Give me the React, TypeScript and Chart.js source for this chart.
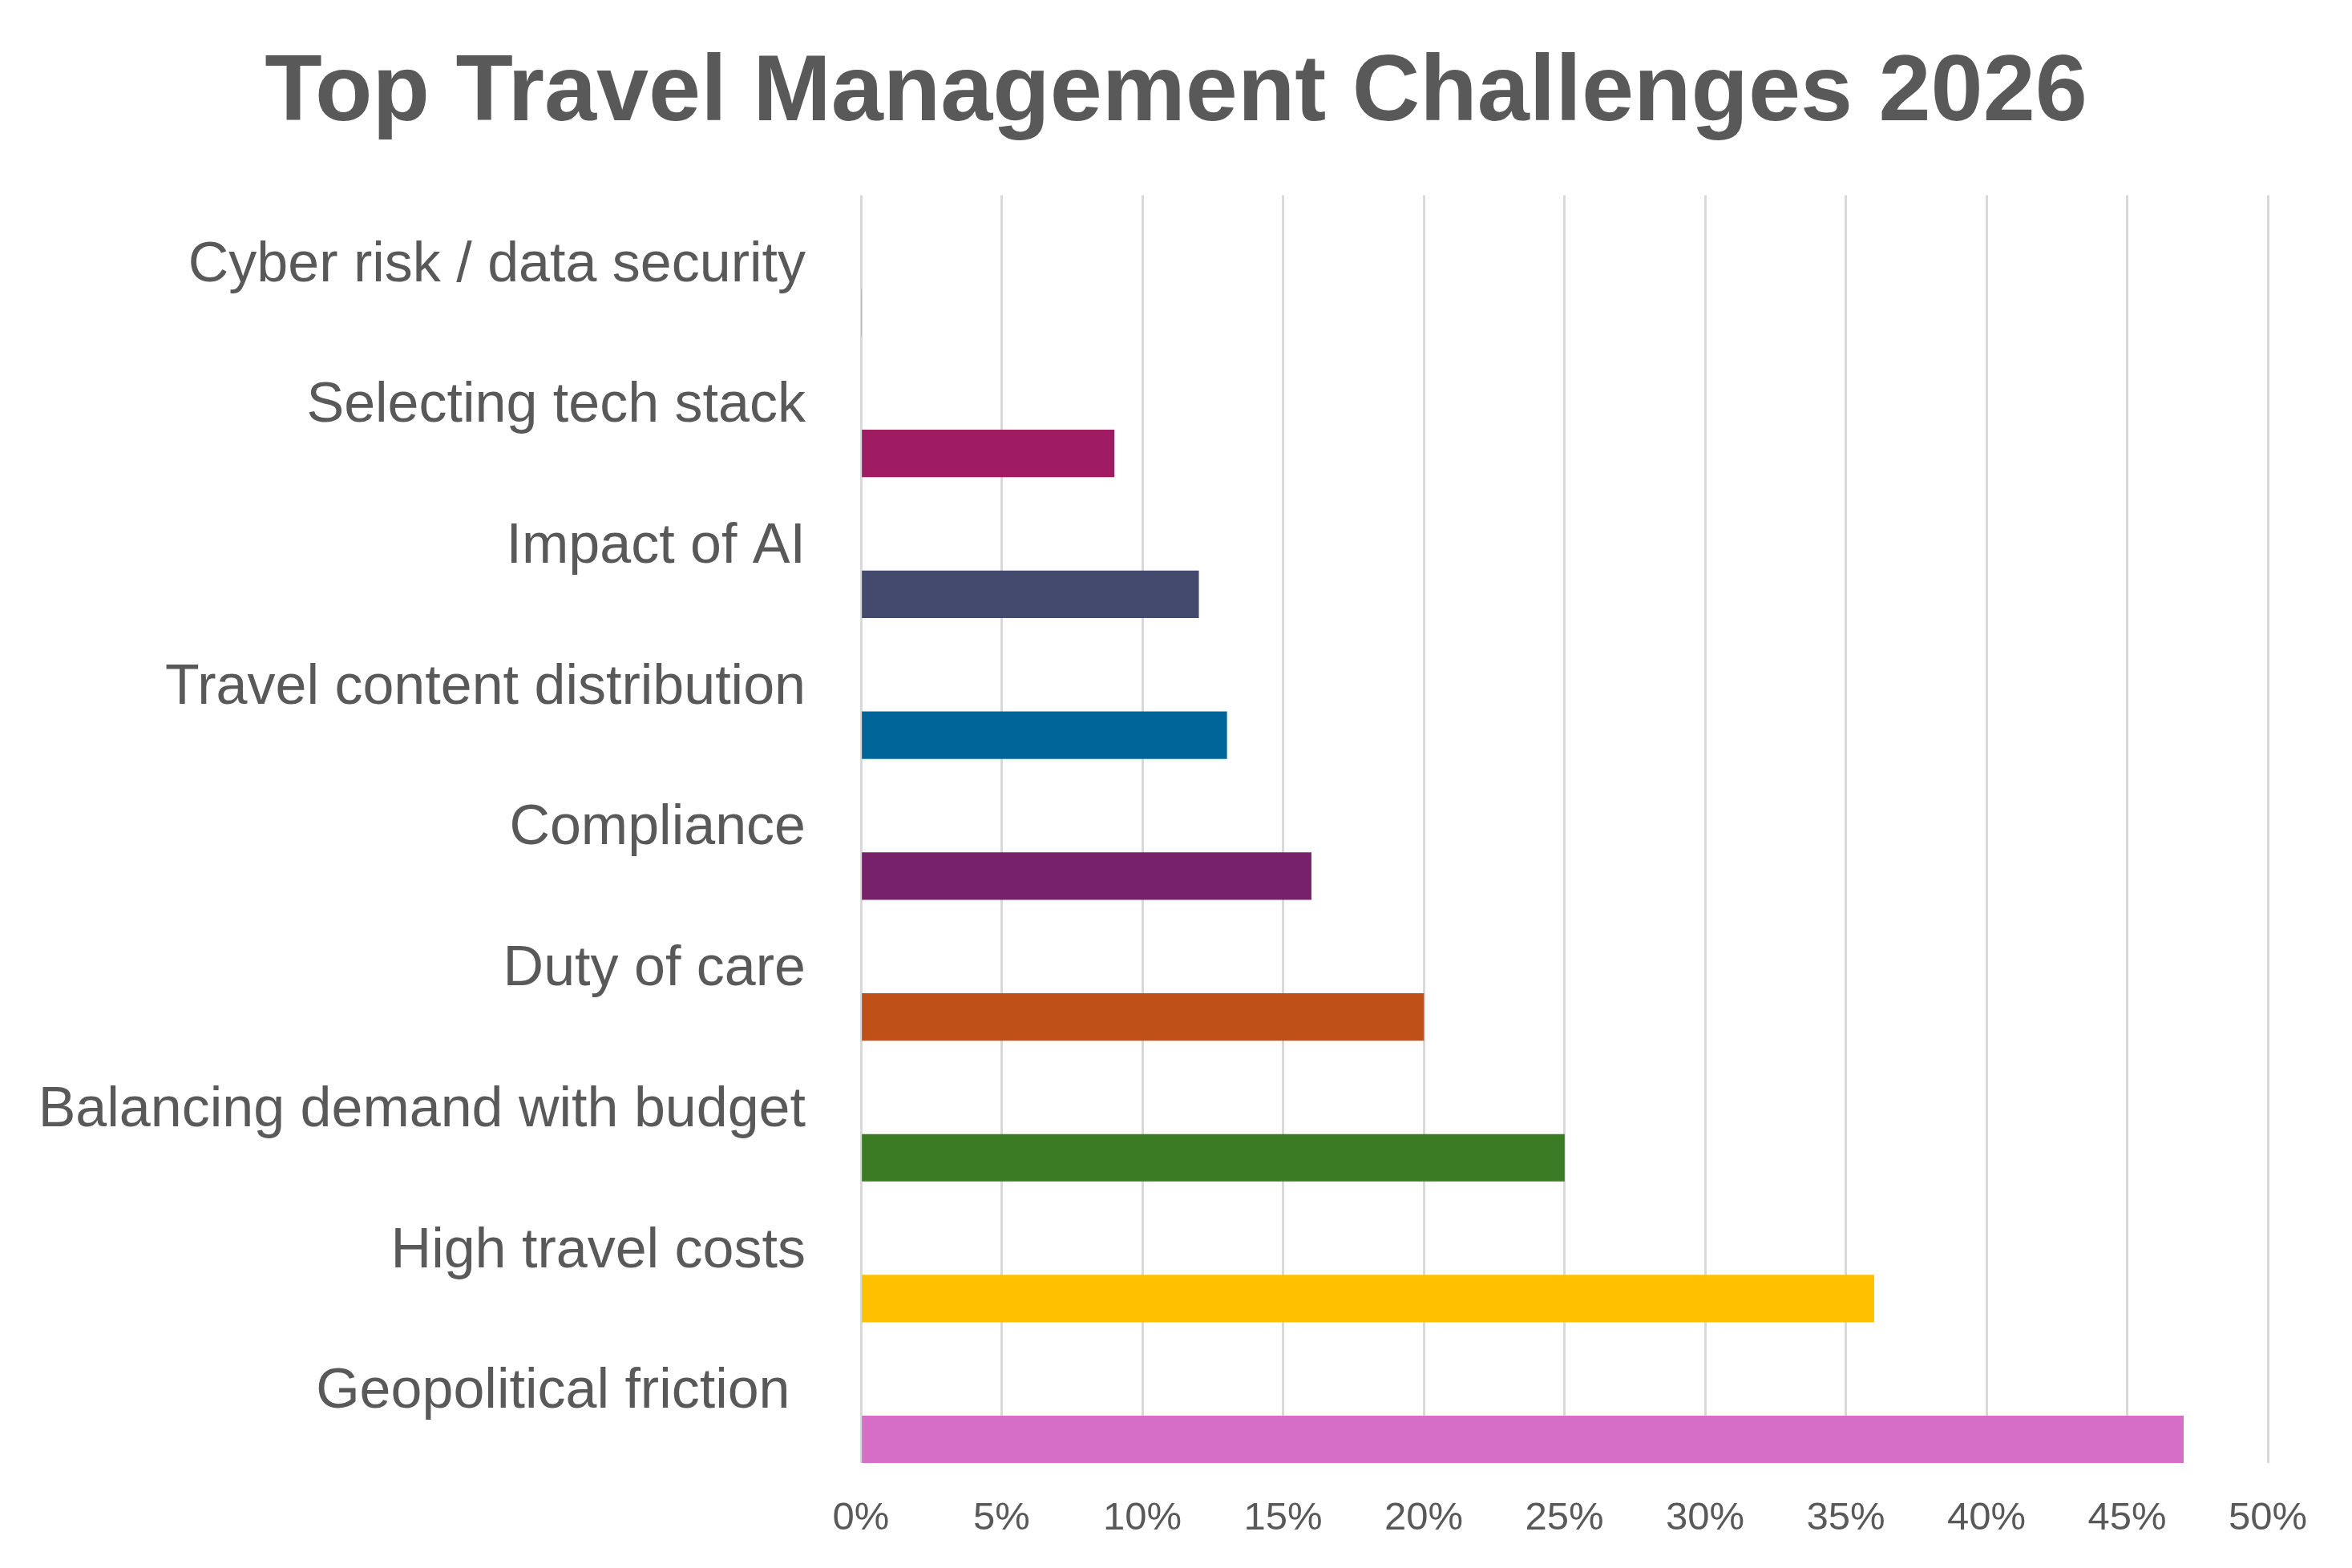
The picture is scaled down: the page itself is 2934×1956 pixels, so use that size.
import React, { useEffect, useRef } from "react";
import { Chart, registerables } from "chart.js";

Chart.register(...registerables);

const title = "Top Travel Management Challenges 2026";

const categories = [
  "Cyber risk / data security",
  "Selecting tech stack",
  "Impact of AI",
  "Travel content distribution",
  "Compliance",
  "Duty of care",
  "Balancing demand with budget",
  "High travel costs",
  "Geopolitical friction ",
];

// share of respondents, percent
const shares = [0, 9, 12, 13, 16, 20, 25, 36, 47];

const barColors = [
  "#7F7F7F",
  "#A01C62",
  "#434A6E",
  "#00669A",
  "#77216B",
  "#BF5017",
  "#3B7B24",
  "#FFC000",
  "#D66EC8",
];

// two empty series keep each bar in the lower third of its row
const emptySeries = categories.map(() => null);

const xTicks = [0, 5, 10, 15, 20, 25, 30, 35, 40, 45, 50];

const W = 2934;
const H = 1956;
const TEXT = "#595959";
const FONT = "'Liberation Sans', Arial, sans-serif";

export default function App() {
  const ref = useRef<HTMLCanvasElement | null>(null);

  useEffect(() => {
    const canvas = ref.current;
    if (!canvas) return;
    const chart = new Chart(canvas, {
      type: "bar",
      data: {
        labels: categories,
        datasets: [
          { label: "a", data: emptySeries, backgroundColor: "rgba(0,0,0,0)" },
          { label: "b", data: emptySeries, backgroundColor: "rgba(0,0,0,0)" },
          {
            label: "Share",
            data: shares,
            backgroundColor: barColors,
            borderWidth: 0,
          },
        ],
      },
      options: {
        indexAxis: "y",
        responsive: false,
        animation: false,
        devicePixelRatio: 1,
        datasets: {
          bar: { categoryPercentage: 1, barPercentage: 1 },
        },
        layout: {
          padding: { left: 0, right: 0, top: 0, bottom: 0 },
        },
        plugins: {
          legend: { display: false },
          tooltip: { enabled: false },
          title: {
            display: true,
            text: title,
            color: TEXT,
            font: { family: FONT, size: 117, weight: "bold", lineHeight: 1.2 },
            padding: { top: 48, bottom: 55 },
          },
        },
        scales: {
          x: {
            type: "linear",
            min: 0,
            max: 50,
            afterBuildTicks: (scale: any) => {
              scale.ticks = xTicks.map((v) => ({ value: v }));
            },
            afterFit: (scale: any) => {
              scale.height = 131;
            },
            grid: {
              color: "#D9D9D9",
              lineWidth: 3,
              drawTicks: false,
            },
            border: { display: false },
            ticks: {
              padding: 40,
              color: TEXT,
              font: { family: FONT, size: 49 },
              callback: (v: any) => `${v}%`,
            },
          },
          y: {
            type: "category",
            grid: { display: false, drawTicks: false },
            border: { display: false },
            afterFit: (scale: any) => {
              scale.width = 1074;
              scale.paddingTop = 0;
              scale.paddingBottom = 0;
            },
            ticks: {
              padding: 69,
              color: TEXT,
              font: { family: FONT, size: 70 },
              autoSkip: false,
            },
          },
          // empty right-hand margin beside the plot
          yRight: {
            type: "category",
            position: "right",
            display: true,
            grid: { display: false, drawTicks: false },
            border: { display: false },
            ticks: { display: false },
            afterFit: (scale: any) => {
              scale.width = 105;
              scale.paddingTop = 0;
              scale.paddingBottom = 0;
            },
          },
        },
      },
    });
    return () => chart.destroy();
  }, []);

  return (
    <div style={{ position: "fixed", left: 0, top: 0, width: W, height: H, background: "#FFFFFF" }}>
      <canvas ref={ref} width={W} height={H} style={{ display: "block", width: W, height: H }} />
    </div>
  );
}
